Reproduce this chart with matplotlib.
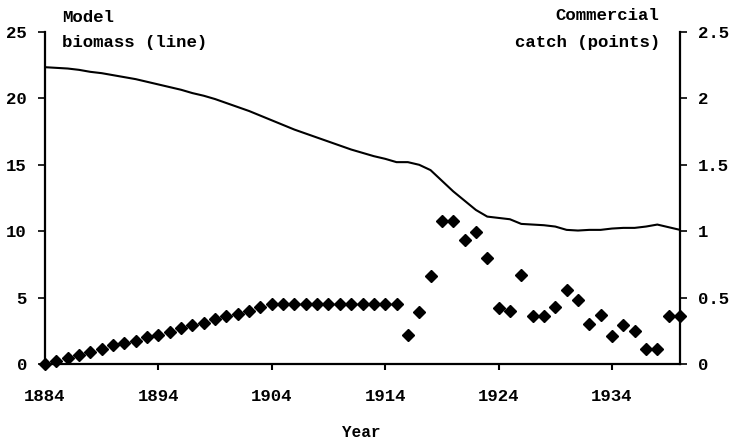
import matplotlib
matplotlib.use("Agg")
import matplotlib.pyplot as plt

# annual model biomass (left axis) and commercial catch (right axis)
years = list(range(1884, 1941))

biomass = [22.35, 22.3, 22.25, 22.15, 22.0, 21.9, 21.75, 21.6, 21.45, 21.25,
           21.05, 20.85, 20.65, 20.4, 20.2, 19.95, 19.65, 19.35, 19.05, 18.7,
           18.35, 18.0, 17.65, 17.35, 17.05, 16.75, 16.45, 16.15, 15.9, 15.65,
           15.45, 15.2, 15.2, 15.0, 14.6, 13.8, 13.0, 12.3, 11.6, 11.1,
           11.0, 10.9, 10.55, 10.5, 10.45, 10.35, 10.1, 10.05, 10.1, 10.1,
           10.2, 10.25, 10.25, 10.35, 10.5, 10.3, 10.1]

catch = [0.0, 0.023, 0.045, 0.07, 0.09, 0.11, 0.14, 0.16, 0.17, 0.2,
         0.22, 0.24, 0.27, 0.29, 0.31, 0.34, 0.36, 0.38, 0.4, 0.43,
         0.45, 0.45, 0.45, 0.45, 0.45, 0.45, 0.45, 0.45, 0.45, 0.45,
         0.45, 0.45, 0.22, 0.39, 0.66, 1.08, 1.08, 0.93, 0.995, 0.8,
         0.42, 0.4, 0.67, 0.36, 0.36, 0.43, 0.56, 0.48, 0.3, 0.37,
         0.21, 0.29, 0.25, 0.11, 0.11, 0.36, 0.36]

xticks = [1884, 1894, 1904, 1914, 1924, 1934]
left_ticks = [0, 5, 10, 15, 20, 25]
right_ticks = [0, 0.5, 1, 1.5, 2, 2.5]
right_labels = ["0", "0.5", "1", "1.5", "2", "2.5"]

font = {"family": "Liberation Mono", "weight": "bold", "size": 12.5}

fig = plt.figure(figsize=(7.29, 4.40), dpi=100)
ax = fig.add_axes([45 / 729, 1 - 364 / 440, (680 - 45) / 729, (364 - 32) / 440])
ax2 = ax.twinx()

ax.plot(years, biomass, color="black", linewidth=1.5)
ax2.plot(years, catch, linestyle="none", marker="D", markersize=6.5,
         color="black", clip_on=False)

ax.set_xlim(1884, 1940)
ax.set_ylim(0, 25)
ax2.set_ylim(0, 2.5)

ax.set_xticks(xticks)
ax.set_xticklabels([str(t) for t in xticks], fontdict=font)
ax.set_yticks(left_ticks)
ax.set_yticklabels([str(t) for t in left_ticks], fontdict=font)
ax2.set_yticks(right_ticks)
ax2.set_yticklabels(right_labels, fontdict=font)

ax.tick_params(axis="x", direction="out", length=4, width=1.5, pad=14)
ax.tick_params(axis="y", direction="out", length=5, width=1.2, pad=8)
ax2.tick_params(axis="y", direction="out", length=5, width=1.2, pad=8)

for a in (ax, ax2):
    a.spines["top"].set_visible(False)
    for s in ("left", "right", "bottom"):
        a.spines[s].set_linewidth(1.6)
ax.spines["right"].set_visible(False)
ax2.spines["left"].set_visible(False)
ax2.spines["bottom"].set_visible(False)

fig.text(62 / 729, 1 - 17 / 440, "Model", ha="left", va="center", fontdict=font)
fig.text(62 / 729, 1 - 42 / 440, "biomass (line)", ha="left", va="center", fontdict=font)
fig.text(659 / 729, 1 - 15 / 440, "Commercial", ha="right", va="center", fontdict=font)
fig.text(660 / 729, 1 - 42 / 440, "catch (points)", ha="right", va="center", fontdict=font)
fig.text(361 / 729, 1 - 432 / 440, "Year", ha="center", va="center",
         fontdict=dict(font, size=11.5))

fig.savefig("out.png", dpi=100)
